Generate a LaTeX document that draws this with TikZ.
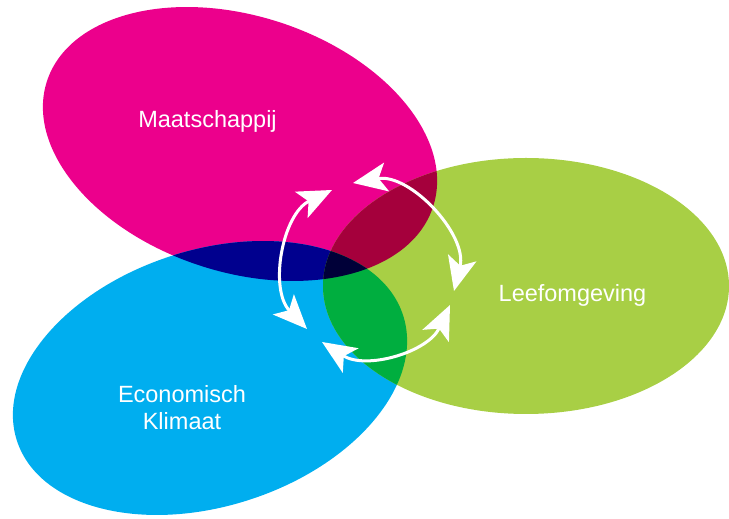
\documentclass[tikz,border=0pt]{standalone}
\usepackage{fontspec}
\setmainfont{Liberation Sans}
\usetikzlibrary{positioning}
\usetikzlibrary{arrows.meta}
\definecolor{socmag}{HTML}{EC008C}
\definecolor{ecocyan}{HTML}{00AEEF}
\definecolor{leefgreen}{HTML}{A8CF45}
\definecolor{socecon}{HTML}{00008E}
\definecolor{socleef}{HTML}{A5003C}
\definecolor{econleef}{HTML}{00AE3F}
\definecolor{allthree}{HTML}{000038}
\newcommand{\rxx}{203pt}
\newcommand{\ryy}{128pt}
\newcommand{\socpath}{[rotate around={-18:(soc)}] (soc) ellipse [x radius=\rxx, y radius=\ryy]}
\newcommand{\econpath}{[rotate around={18:(econ)}] (econ) ellipse [x radius=\rxx, y radius=\ryy]}
\newcommand{\leefpath}{(leef) ellipse [x radius=\rxx, y radius=\ryy]}
\tikzset{
    blobtext/.style = {text=white, align=center, anchor=base, font=\fontsize{23.5}{27}\selectfont},
    flow/.style = {{Stealth[length=34pt,width=29pt,inset=8pt]}-{Stealth[length=34pt,width=29pt,inset=8pt]}, line width=3pt, white}, % both ways
}
\begin{document}
\begin{tikzpicture}[x=1pt, y=1pt]
  \useasboundingbox (0,0) rectangle (729,519);
  \coordinate (soc) at (240,375);
  \coordinate (econ) at (210,141);
  \coordinate (leef) at (526,233);

  \fill[socmag] \socpath;
  \fill[ecocyan] \econpath;
  \fill[leefgreen] \leefpath;
  % overlaps
  \begin{scope}
    \clip \socpath;
    \fill[socecon] \econpath;
    \fill[socleef] \leefpath;
  \end{scope}
  \begin{scope}
    \clip \econpath;
    \fill[econleef] \leefpath;
  \end{scope}
  \begin{scope}
    \clip \socpath;
    \clip \econpath;
    \fill[allthree] \leefpath;
  \end{scope}

  \node[blobtext] (maat) at (207.5,391) {Maatschappij};
  \node[blobtext] (leefo) at (572.5,217) {Leefomgeving};
  \node[blobtext] (econo) at (182,89) {Economisch\\Klimaat};

  \coordinate (a1) at (332,329);
  \coordinate (a2) at (307,190);
  \coordinate (b1) at (353,336);
  \coordinate (b2) at (454,228);
  \coordinate (c1) at (450,214);
  \coordinate (c2) at (322,177);
  \draw[flow] (a1) to[bend right=54] (a2);
  \draw[flow] (b1) to[bend left=57] (b2);
  \draw[flow] (c1) to[bend left=49] (c2);
\end{tikzpicture}
\end{document}
